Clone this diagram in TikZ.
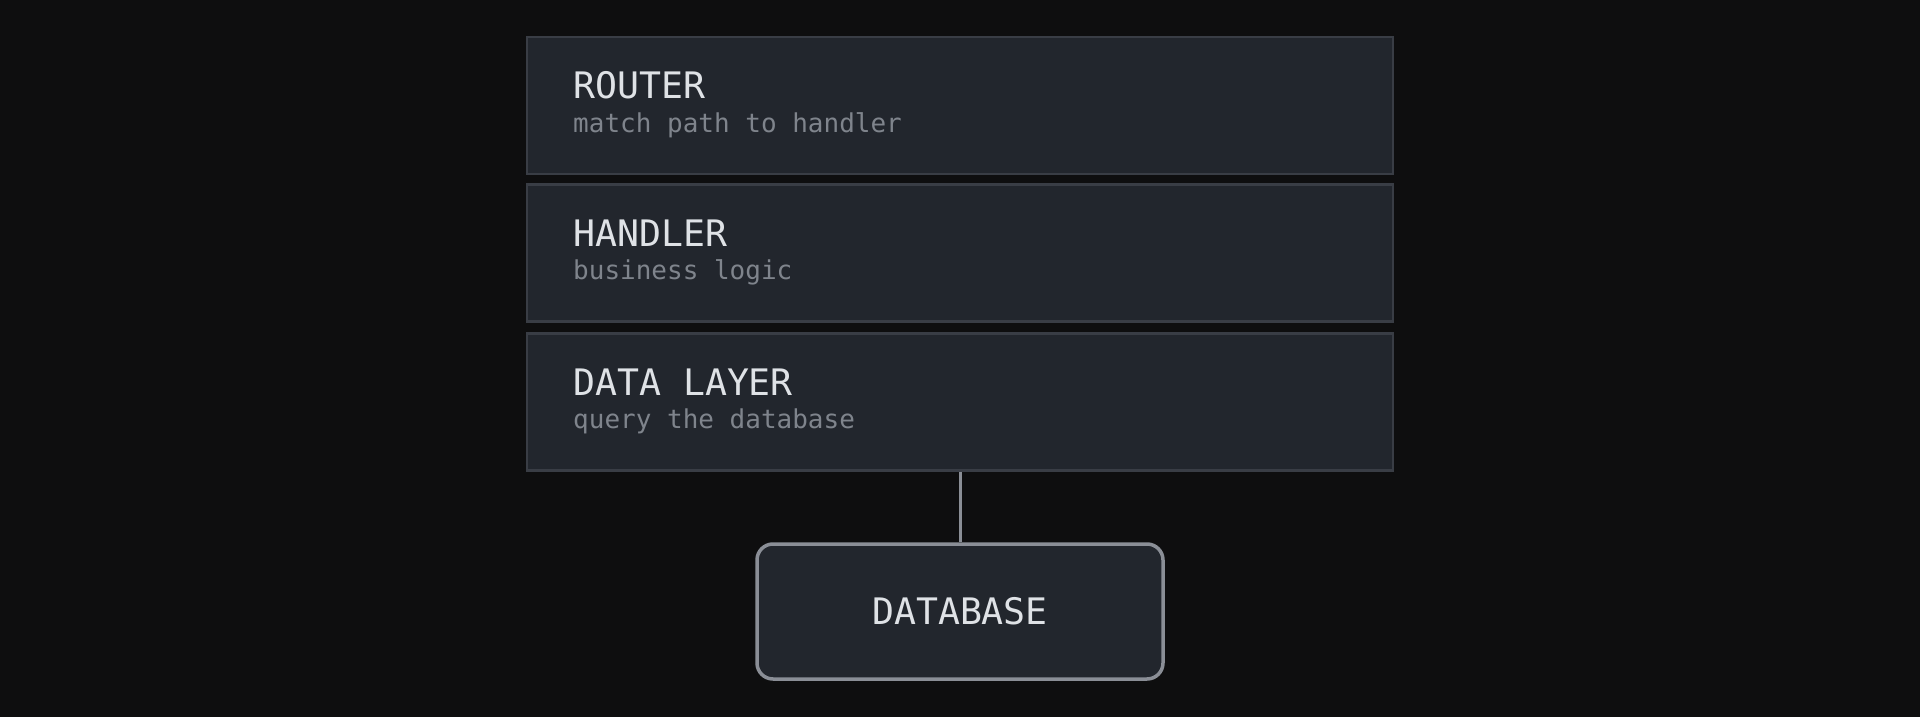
\documentclass[tikz,border=0pt]{standalone}
\usepackage{fontspec}
\setmonofont{DejaVu Sans Mono}
\definecolor{bg}{HTML}{0E0E0F}
\definecolor{boxfill}{HTML}{22262D}
\definecolor{boxline}{HTML}{393D45}
\definecolor{dbline}{HTML}{8A8E96}
\definecolor{titlec}{HTML}{DFE2E6}
\definecolor{subc}{HTML}{7F848C}
\begin{document}
\begin{tikzpicture}[x=1pt,y=-1pt,
  layer/.style={draw=boxline, line width=2.5pt, fill=boxfill, minimum width=866pt, minimum height=137pt, inner sep=0pt},
  ttl/.style={anchor=base west, inner sep=0pt, text=titlec, font=\ttfamily\fontsize{36.5}{40}\selectfont},
  sub/.style={anchor=base west, inner sep=0pt, text=subc, font=\ttfamily\fontsize{26}{30}\selectfont},
  dbbox/.style={draw=dbline, line width=3.5pt, fill=boxfill, rounded corners=16pt, minimum width=406pt, minimum height=135pt, inner sep=0pt, text=titlec, font=\ttfamily\fontsize{36.5}{40}\selectfont},
  conn/.style={draw=dbline, line width=3pt}]
\useasboundingbox (0,0) rectangle (1920,717);
\fill[bg] (0,0) rectangle (1920,717);
\node[layer] (router) at (960,105.5) {};
\node[layer] (handler) at (960,253) {};
\node[layer] (data) at (960,402) {};
\node[ttl] (routerT) at (573,99) {ROUTER};
\node[sub] (routerS) at (573,132) {match path to handler};
\node[ttl] (handlerT) at (573,246) {HANDLER};
\node[sub] (handlerS) at (573,279) {business logic};
\node[ttl] (dataT) at (573,395) {DATA LAYER};
\node[sub] (dataS) at (573,428) {query the database};
\node[dbbox] (db) at (960,611.5) {DATABASE};
\draw[conn] (data.south) -- (db.north);
\end{tikzpicture}
\end{document}
